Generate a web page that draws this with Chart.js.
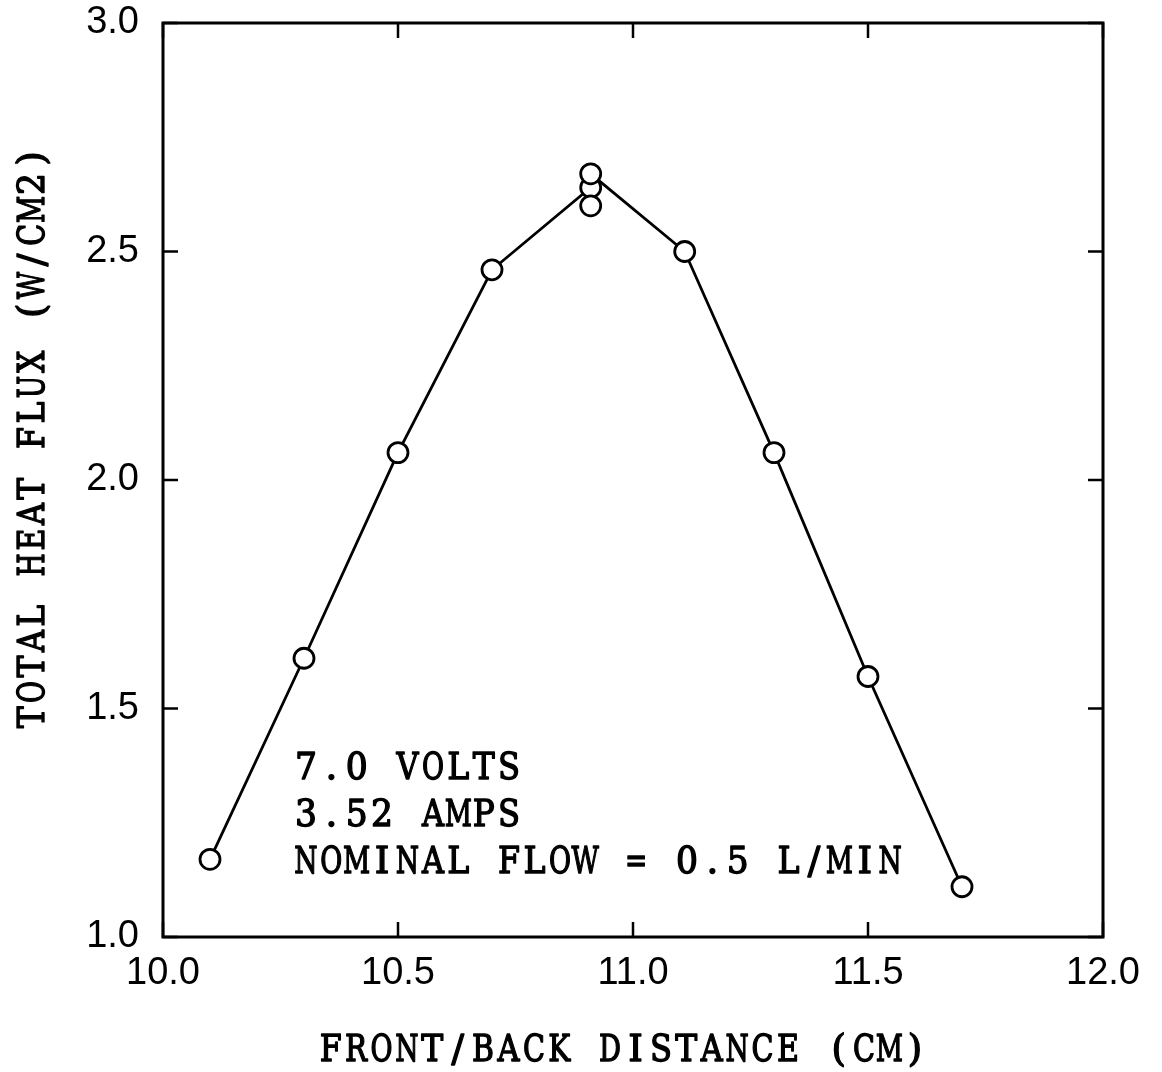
<!DOCTYPE html>
<html>
<head>
<meta charset="utf-8">
<script src="https://cdn.jsdelivr.net/npm/chart.js@4/dist/chart.umd.min.js"></script>
<style>
  html, body { margin: 0; padding: 0; background: #ffffff; }
  #wrap { width: 1162px; height: 1072px; }
</style>
</head>
<body>
<div id="wrap"><canvas id="c" width="1162" height="1072"></canvas></div>
<script>
// Data
const distanceCm = [10.1, 10.3, 10.5, 10.7, 10.91, 10.91, 10.91, 11.11, 11.3, 11.5, 11.7];
const heatFlux   = [1.17, 1.61, 2.06, 2.46, 2.64, 2.60, 2.67, 2.50, 2.06, 1.57, 1.11];
const xTicks = [10.0, 10.5, 11.0, 11.5, 12.0];
const yTicks = [1.0, 1.5, 2.0, 2.5, 3.0];
const xTitle = 'FRONT/BACK DISTANCE (CM)';
const yTitle = 'TOTAL HEAT FLUX (W/CM2)';
const noteLines = ['7.0 VOLTS', '3.52 AMPS', 'NOMINAL FLOW = 0.5 L/MIN'];

const points = distanceCm.map((x, i) => ({ x: x, y: heatFlux[i] }));

const TYPE_FONT = '37px "DejaVu Serif"';
const ADV = 25.4;     // typewriter character advance
const TARGET_W = 22;  // typical glyph ink width

// Draws text as a typewriter (fixed advance) starting at (x, y) baseline
function drawTypewriter(ctx, text, x, y) {
  ctx.save();
  ctx.font = TYPE_FONT;
  ctx.textAlign = 'center';
  ctx.textBaseline = 'alphabetic';
  ctx.lineWidth = 1.4;
  ctx.lineJoin = 'round';
  ctx.strokeStyle = '#000';
  for (let i = 0; i < text.length; i++) {
    const ch = text[i];
    if (ch === ' ') continue;
    const w = ctx.measureText(ch).width;
    let s = TARGET_W / w;
    s = Math.max(0.72, Math.min(1.0, s));
    ctx.save();
    ctx.translate(x + i * ADV + ADV / 2, y);
    ctx.scale(s, 1);
    ctx.fillText(ch, 0, 0);
    ctx.strokeText(ch, 0, 0);
    ctx.restore();
  }
  ctx.restore();
}

const framePlugin = {
  id: 'frameAndText',
  afterDatasetsDraw(chart) {
    const ctx = chart.ctx;
    const a = chart.chartArea;
    const xs = chart.scales.x, ys = chart.scales.y;
    ctx.save();
    ctx.strokeStyle = '#000';
    ctx.lineWidth = 3;
    ctx.strokeRect(a.left, a.top, a.right - a.left, a.bottom - a.top);
    const tl = 15;
    ctx.lineWidth = 2.5;
    ctx.beginPath();
    xTicks.forEach(v => {
      const px = xs.getPixelForValue(v);
      ctx.moveTo(px, a.bottom); ctx.lineTo(px, a.bottom - tl);
      ctx.moveTo(px, a.top); ctx.lineTo(px, a.top + tl);
    });
    yTicks.forEach(v => {
      const py = ys.getPixelForValue(v);
      ctx.moveTo(a.left, py); ctx.lineTo(a.left + tl, py);
      ctx.moveTo(a.right, py); ctx.lineTo(a.right - tl, py);
    });
    ctx.stroke();
    ctx.fillStyle = '#000';

    // X axis title
    drawTypewriter(ctx, xTitle, 318, 1061);

    // Y axis title (rotated)
    ctx.save();
    ctx.translate(44, 730);
    ctx.rotate(-Math.PI / 2);
    drawTypewriter(ctx, yTitle, 0, 0);
    ctx.restore();

    // Annotation
    const nx = xs.getPixelForValue(10.277);
    const baseY = a.top + 756;
    noteLines.forEach((t, i) => drawTypewriter(ctx, t, nx, baseY + i * 47));
    ctx.restore();
  }
};

new Chart(document.getElementById('c'), {
  type: 'scatter',
  data: {
    datasets: [{
      data: points,
      showLine: true,
      borderColor: '#000',
      borderWidth: 2.8,
      pointRadius: 10,
      pointBorderWidth: 2.8,
      pointBackgroundColor: '#fff',
      pointBorderColor: '#000',
      tension: 0
    }]
  },
  options: {
    responsive: false,
    animation: false,
    events: [],
    layout: { padding: { left: 0, right: 59, top: 23, bottom: 0 } },
    plugins: { legend: { display: false }, tooltip: { enabled: false } },
    scales: {
      x: {
        type: 'linear',
        min: 10, max: 12,
        afterFit(s) { s.height = 135; s.paddingLeft = 0; s.paddingRight = 0; },
        afterBuildTicks(s) { s.ticks = xTicks.map(v => ({ value: v })); },
        grid: { display: false, drawTicks: false },
        border: { display: false },
        ticks: {
          color: '#000',
          font: { family: '"Liberation Sans", Arial, sans-serif', size: 38 },
          padding: 14,
          maxRotation: 0,
          callback: v => v.toFixed(1)
        }
      },
      y: {
        type: 'linear',
        min: 1, max: 3,
        afterFit(s) { s.width = 163; s.paddingTop = 0; s.paddingBottom = 0; },
        afterBuildTicks(s) { s.ticks = yTicks.map(v => ({ value: v })); },
        grid: { display: false, drawTicks: false },
        border: { display: false },
        ticks: {
          color: '#000',
          font: { family: '"Liberation Sans", Arial, sans-serif', size: 38 },
          padding: 24,
          callback: v => v.toFixed(1)
        }
      }
    }
  },
  plugins: [framePlugin]
});
</script>
</body>
</html>
